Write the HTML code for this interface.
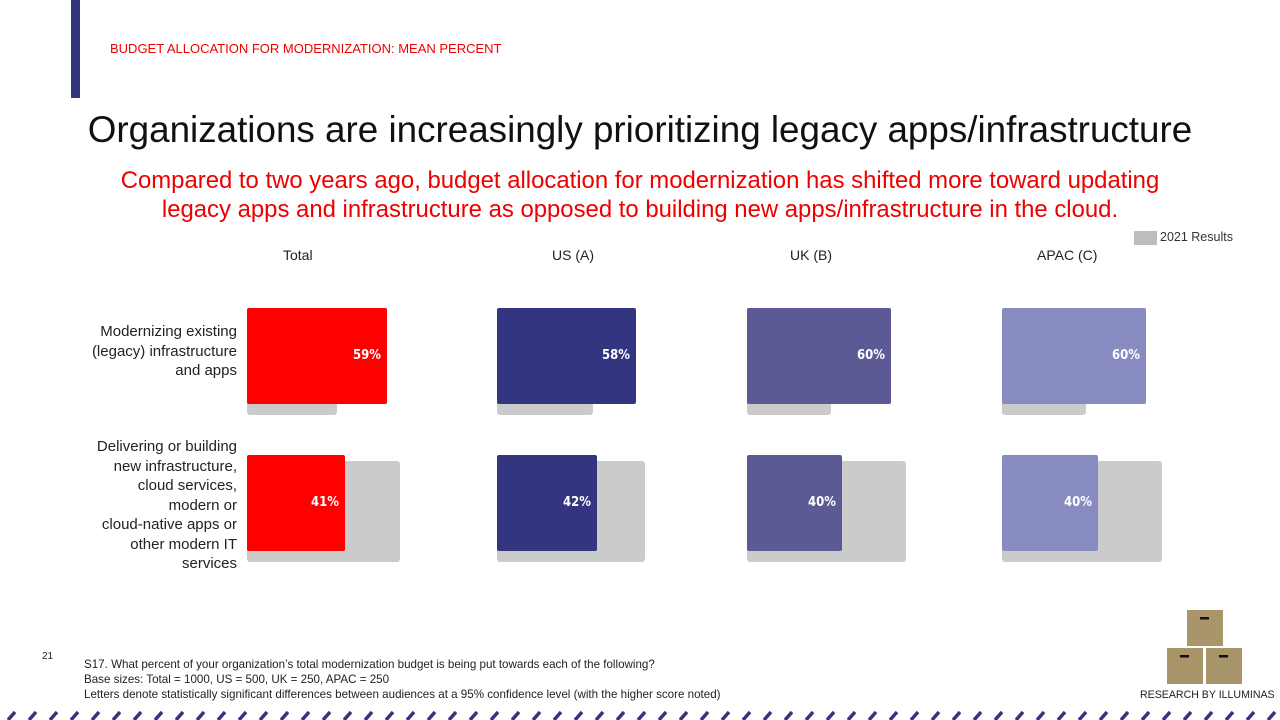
<!DOCTYPE html>
<html><head><meta charset="utf-8"><style>
*{margin:0;padding:0;box-sizing:border-box}
body{width:1280px;height:720px;position:relative;background:#fff;font-family:"Liberation Sans",sans-serif;overflow:hidden}
.a{position:absolute}
.g{position:absolute;background:#cbcbcb;border-radius:3px}
.b{position:absolute;border-radius:2px;color:#fff;font-weight:bold;font-size:13px;text-align:right;padding-right:6px;line-height:96px;font-family:"DejaVu Sans Condensed","Liberation Sans Narrow",sans-serif}
.h{position:absolute;top:247px;font-size:14px;color:#222}
.lab{position:absolute;font-size:15px;color:#222;text-align:right;line-height:19.5px}
</style></head><body>
<div class="a" style="left:71px;top:0;width:9px;height:98px;background:#33357f"></div>
<div class="a" style="left:110px;top:41px;font-size:13px;color:#e00">BUDGET ALLOCATION FOR MODERNIZATION: MEAN PERCENT</div>
<div class="a" style="left:0;width:1280px;top:109px;text-align:center;font-size:36.8px;color:#111">Organizations are increasingly prioritizing legacy apps/infrastructure</div>
<div class="a" style="left:0;width:1280px;top:166px;text-align:center;font-size:23.9px;line-height:29px;color:#e00">Compared to two years ago, budget allocation for modernization has shifted more toward updating<br>legacy apps and infrastructure as opposed to building new apps/infrastructure in the cloud.</div>
<div class="a" style="left:1134px;top:231px;width:23px;height:14px;background:#bdbdbd"></div>
<div class="a" style="left:1160px;top:230px;font-size:12.5px;color:#333">2021 Results</div>
<div class="h" style="left:283px">Total</div>
<div class="h" style="left:552px">US (A)</div>
<div class="h" style="left:790px">UK (B)</div>
<div class="h" style="left:1037px">APAC (C)</div>
<div class="lab" style="right:1043px;top:322px">Modernizing existing<br>(legacy) infrastructure<br>and apps</div>
<div class="lab" style="right:1043px;top:437px">Delivering or building<br>new infrastructure,<br>cloud services,<br>modern or<br>cloud-native apps or<br>other modern IT<br>services</div>

<div class="g" style="left:247px;top:310px;width:90px;height:105px"></div>
<div class="b" style="left:247px;top:308px;width:140px;height:96px;background:#f00">59%</div>
<div class="g" style="left:247px;top:461px;width:153px;height:101px"></div>
<div class="b" style="left:247px;top:455px;width:98px;height:96px;background:#f00">41%</div>

<div class="g" style="left:497px;top:310px;width:96px;height:105px"></div>
<div class="b" style="left:497px;top:308px;width:139px;height:96px;background:#333580">58%</div>
<div class="g" style="left:497px;top:461px;width:148px;height:101px"></div>
<div class="b" style="left:497px;top:455px;width:100px;height:96px;background:#333580">42%</div>

<div class="g" style="left:747px;top:310px;width:84px;height:105px"></div>
<div class="b" style="left:747px;top:308px;width:144px;height:96px;background:#5b5a94">60%</div>
<div class="g" style="left:747px;top:461px;width:159px;height:101px"></div>
<div class="b" style="left:747px;top:455px;width:95px;height:96px;background:#5b5a94">40%</div>

<div class="g" style="left:1002px;top:310px;width:84px;height:105px"></div>
<div class="b" style="left:1002px;top:308px;width:144px;height:96px;background:#878bc0">60%</div>
<div class="g" style="left:1002px;top:461px;width:160px;height:101px"></div>
<div class="b" style="left:1002px;top:455px;width:96px;height:96px;background:#878bc0">40%</div>

<div class="a" style="left:42px;top:651px;font-size:10px;color:#222">21</div>
<div class="a" style="left:84px;top:657px;font-size:11.6px;line-height:15px;color:#222">S17. What percent of your organization’s total modernization budget is being put towards each of the following?<br>Base sizes: Total = 1000, US = 500, UK = 250, APAC = 250<br>Letters denote statistically significant differences between audiences at a 95% confidence level (with the higher score noted)</div>
<svg class="a" style="left:1166px;top:609px" width="78" height="76">
<rect x="21" y="1" width="36" height="36" fill="#a8956a"/><rect x="34" y="8" width="9" height="2.5" fill="#111"/>
<rect x="1" y="39" width="36" height="36" fill="#a8956a"/><rect x="14" y="46" width="9" height="2.5" fill="#111"/>
<rect x="40" y="39" width="36" height="36" fill="#a8956a"/><rect x="53" y="46" width="9" height="2.5" fill="#111"/>
</svg>
<div class="a" style="left:1140px;top:689px;font-size:10.6px;color:#222">RESEARCH BY ILLUMINAS</div>
<svg class="a" style="left:0;top:710px" width="1280" height="10">
<g stroke="#33357f" stroke-width="3.5">
<line x1="8" y1="10" x2="15" y2="2"/><line x1="29" y1="10" x2="36" y2="2"/><line x1="50" y1="10" x2="57" y2="2"/><line x1="71" y1="10" x2="78" y2="2"/><line x1="92" y1="10" x2="99" y2="2"/><line x1="113" y1="10" x2="120" y2="2"/><line x1="134" y1="10" x2="141" y2="2"/><line x1="155" y1="10" x2="162" y2="2"/><line x1="176" y1="10" x2="183" y2="2"/><line x1="197" y1="10" x2="204" y2="2"/><line x1="218" y1="10" x2="225" y2="2"/><line x1="239" y1="10" x2="246" y2="2"/><line x1="260" y1="10" x2="267" y2="2"/><line x1="281" y1="10" x2="288" y2="2"/><line x1="302" y1="10" x2="309" y2="2"/><line x1="323" y1="10" x2="330" y2="2"/><line x1="344" y1="10" x2="351" y2="2"/><line x1="365" y1="10" x2="372" y2="2"/><line x1="386" y1="10" x2="393" y2="2"/><line x1="407" y1="10" x2="414" y2="2"/><line x1="428" y1="10" x2="435" y2="2"/><line x1="449" y1="10" x2="456" y2="2"/><line x1="470" y1="10" x2="477" y2="2"/><line x1="491" y1="10" x2="498" y2="2"/><line x1="512" y1="10" x2="519" y2="2"/><line x1="533" y1="10" x2="540" y2="2"/><line x1="554" y1="10" x2="561" y2="2"/><line x1="575" y1="10" x2="582" y2="2"/><line x1="596" y1="10" x2="603" y2="2"/><line x1="617" y1="10" x2="624" y2="2"/><line x1="638" y1="10" x2="645" y2="2"/><line x1="659" y1="10" x2="666" y2="2"/><line x1="680" y1="10" x2="687" y2="2"/><line x1="701" y1="10" x2="708" y2="2"/><line x1="722" y1="10" x2="729" y2="2"/><line x1="743" y1="10" x2="750" y2="2"/><line x1="764" y1="10" x2="771" y2="2"/><line x1="785" y1="10" x2="792" y2="2"/><line x1="806" y1="10" x2="813" y2="2"/><line x1="827" y1="10" x2="834" y2="2"/><line x1="848" y1="10" x2="855" y2="2"/><line x1="869" y1="10" x2="876" y2="2"/><line x1="890" y1="10" x2="897" y2="2"/><line x1="911" y1="10" x2="918" y2="2"/><line x1="932" y1="10" x2="939" y2="2"/><line x1="953" y1="10" x2="960" y2="2"/><line x1="974" y1="10" x2="981" y2="2"/><line x1="995" y1="10" x2="1002" y2="2"/><line x1="1016" y1="10" x2="1023" y2="2"/><line x1="1037" y1="10" x2="1044" y2="2"/><line x1="1058" y1="10" x2="1065" y2="2"/><line x1="1079" y1="10" x2="1086" y2="2"/><line x1="1100" y1="10" x2="1107" y2="2"/><line x1="1121" y1="10" x2="1128" y2="2"/><line x1="1142" y1="10" x2="1149" y2="2"/><line x1="1163" y1="10" x2="1170" y2="2"/><line x1="1184" y1="10" x2="1191" y2="2"/><line x1="1205" y1="10" x2="1212" y2="2"/><line x1="1226" y1="10" x2="1233" y2="2"/><line x1="1247" y1="10" x2="1254" y2="2"/><line x1="1268" y1="10" x2="1275" y2="2"/>
</g></svg>
</body></html>
